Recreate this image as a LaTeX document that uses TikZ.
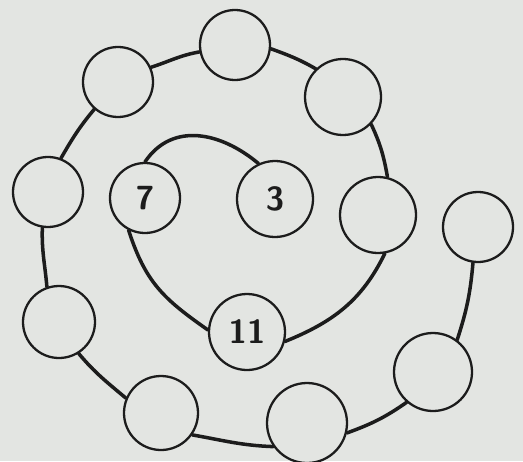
\documentclass[tikz,border=0pt]{standalone}
\begin{document}
\begin{tikzpicture}[x=0.02cm,y=0.02cm,
  ball/.style={circle, draw=inkc, line width=1.3pt, fill=paperc, inner sep=0pt,
    font=\sffamily\bfseries\fontsize{19}{22}\selectfont, text=inkc},
  spiral/.style={draw=inkc, line width=2pt, line cap=round}]
\definecolor{paperc}{RGB}{227,229,226}
\definecolor{inkc}{RGB}{28,28,28}
\fill[paperc] (0,0) rectangle (523,461);
\useasboundingbox (0,0) rectangle (523,461);
% nodes (y measured upwards)
\node[ball, minimum size=76*0.02cm] (c3)  at (275,262) {3};
\node[ball, minimum size=70*0.02cm] (c7)  at (145,263) {7};
\node[ball, minimum size=76*0.02cm] (c11) at (247,129) {11};
\node[ball, minimum size=76*0.02cm] (cR1) at (378,246) {};
\node[ball, minimum size=76*0.02cm] (cTR) at (343,364) {};
\node[ball, minimum size=70*0.02cm] (cT)  at (235,416) {};
\node[ball, minimum size=70*0.02cm] (cTL) at (118,379) {};
\node[ball, minimum size=70*0.02cm] (cL)  at (48,269) {};
\node[ball, minimum size=72*0.02cm] (cBL) at (59,139) {};
\node[ball, minimum size=74*0.02cm] (cB1) at (161,48) {};
\node[ball, minimum size=80*0.02cm] (cB2) at (307,38) {};
\node[ball, minimum size=78*0.02cm] (cBR) at (433,89) {};
\node[ball, minimum size=70*0.02cm] (cR2) at (478,234) {};
% spiral connectors
\draw[spiral] (c3.115) to[out=140,in=56,looseness=1.1] (c7.90);
\draw[spiral] (c7.243) to[out=-72,in=145,looseness=1.1] (c11.177);
\draw[spiral] (c11.-14) to[out=22,in=-116] (cR1.-80);
\draw[spiral] (cR1.76) to[out=100,in=-65] (cTR.-44);
\draw[spiral] (cTR.134) to[out=150,in=-20] (cT.-6);
\draw[spiral] (cT.191) to[out=190,in=18] (cTL.24);
\draw[spiral] (cTL.229) to[out=230,in=60] (cL.69);
\draw[spiral] (cL.261) to[out=268,in=95] (cBL.109);
\draw[spiral] (cBL.302) to[out=310,in=140] (cB1.157);
\draw[spiral] (cB1.325) to[out=-10,in=178] (cB2.215);
\draw[spiral] (cB2.-14) to[out=20,in=215] (cBR.229);
\draw[spiral] (cBR.53) to[out=72,in=-95] (cR2.262);
\end{tikzpicture}
\end{document}
